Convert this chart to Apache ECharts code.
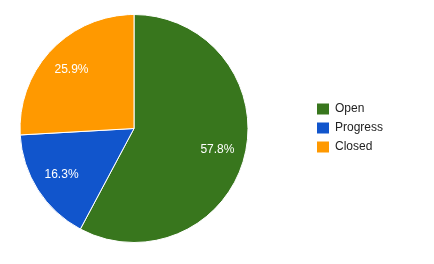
<!DOCTYPE html>
<html><head><meta charset="utf-8">
<script src="https://cdn.jsdelivr.net/npm/echarts@6/dist/echarts.min.js"></script>
<style>html,body{margin:0;padding:0;background:#fff}#c{width:434px;height:264px}</style>
</head><body><div id="c"></div>
<script>
var categories = ['Open', 'Progress', 'Closed'];
var values = [57.8, 16.3, 25.9];
var colors = ['#38761d', '#1155cc', '#ff9900'];

var data = categories.map(function(n, i){ return {name: n, value: values[i]}; });
var chart = echarts.init(document.getElementById('c'));
chart.setOption({
  animation: false,
  color: colors,
  legend: {
    orient: 'vertical', left: 317, top: 103, padding: 0,
    itemWidth: 12, itemHeight: 11, itemGap: 7,
    icon: 'rect',
    itemStyle: {borderWidth: 0},
    data: categories,
    textStyle: {fontFamily: 'Liberation Sans, Arial', fontSize: 12, color: '#222', padding: [0, 0, 0, 1]}
  },
  series: [{
    type: 'pie', center: [134, 128.5], radius: [0, 114],
    startAngle: 90, clockwise: true,
    data: data,
    label: {show: false}, labelLine: {show: false},
    itemStyle: {borderColor: '#fff', borderWidth: 1},
    emphasis: {disabled: true}
  }, {
    type: 'pie', center: [134, 128.5], radius: [52, 114],
    startAngle: 90, clockwise: true, silent: true,
    data: data,
    itemStyle: {color: 'rgba(0,0,0,0)'},
    label: {show: true, position: 'inside', formatter: function(p){ return p.value.toFixed(1) + '%'; },
      color: '#fff', fontFamily: 'Liberation Sans, Arial', fontSize: 12},
    labelLine: {show: false},
    emphasis: {disabled: true}
  }]
});
</script></body></html>
